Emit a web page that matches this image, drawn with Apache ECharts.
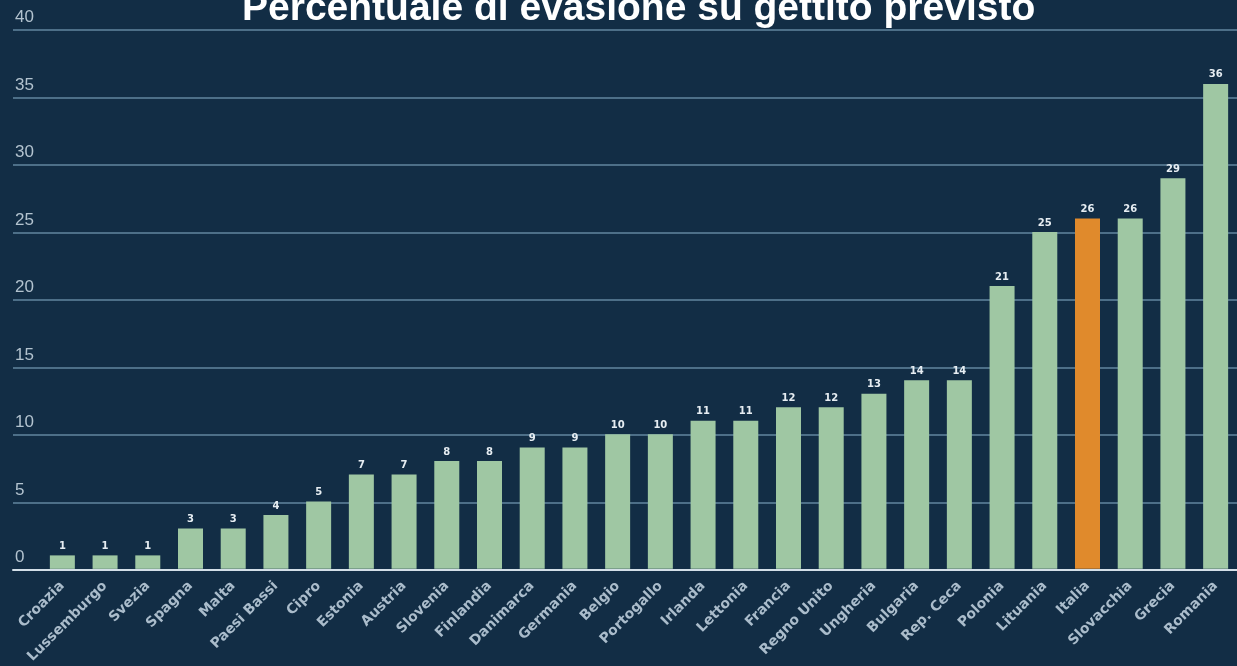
<!DOCTYPE html>
<html><head><meta charset="utf-8">
<script src="https://cdn.jsdelivr.net/npm/echarts@6/dist/echarts.min.js"></script>
<style>html,body{margin:0;padding:0;background:#122d45;}#c{width:1237px;height:666px;}</style>
</head><body><div id="c"></div>
<script>
const categories = ['Croazia','Lussemburgo','Svezia','Spagna','Malta','Paesi Bassi','Cipro','Estonia','Austria','Slovenia','Finlandia','Danimarca','Germania','Belgio','Portogallo','Irlanda','Lettonia','Francia','Regno Unito','Ungheria','Bulgaria','Rep. Ceca','Polonia','Lituania','Italia','Slovacchia','Grecia','Romania'];
const values = [1,1,1,3,3,4,5,7,7,8,8,9,9,10,10,11,11,12,12,13,14,14,21,25,26,26,29,36];
const highlight = 'Italia';
const titleText = 'Percentuale di evasione su gettito previsto';
const yMin = 0, yMax = 40, yStep = 5;

const chart = echarts.init(document.getElementById('c'), null, {renderer:'canvas'});
const green = '#9fc7a3', orange = '#e08a2c';
chart.setOption({
  backgroundColor: '#122d45',
  animation: false,
  title: {
    text: titleText, left: 242, top: -10, padding: 0,
    textStyle: {color:'#ffffff', fontSize:39, fontWeight:'bold', fontFamily:'Liberation Sans, Arial, sans-serif', lineHeight:39}
  },
  grid: [
    {left:13, right:0, top:30, bottom:96},
    {left:41, right:-2, top:30, bottom:96}
  ],
  xAxis: [
    {gridIndex:0, type:'category', data:categories, axisLabel:{show:false}, axisTick:{show:false},
     axisLine:{show:true, lineStyle:{color:'#d3dfe8', width:2}}},
    {gridIndex:1, type:'category', data:categories, axisTick:{show:false}, axisLine:{show:false},
     axisLabel:{rotate:45, interval:0, margin:15, color:'#aabccb', fontSize:14, fontWeight:'bold', fontFamily:'DejaVu Sans, sans-serif'}}
  ],
  yAxis: [
    {gridIndex:0, type:'value', min:yMin, max:yMax, interval:yStep,
     axisLine:{show:false}, axisTick:{show:false},
     splitLine:{show:true, lineStyle:{color:'#4d6f88', width:2}},
     axisLabel:{inside:true, margin:2, align:'left', verticalAlign:'bottom', padding:[0,0,4,0], color:'#b3c3cf', fontSize:17, fontFamily:'Liberation Sans, Arial, sans-serif'}},
    {gridIndex:1, type:'value', min:yMin, max:yMax, interval:yStep, show:false, splitLine:{show:false}}
  ],
  series: [{
    type:'bar', xAxisIndex:1, yAxisIndex:1, barWidth:25,
    data: values.map((v,i)=>({value:v, itemStyle:{color: categories[i]===highlight ? orange : green}})),
    label:{show:true, position:'top', distance:4, color:'#e6edf2', fontSize:10, fontWeight:'bold', fontFamily:'DejaVu Sans, sans-serif'}
  }]
});
</script></body></html>
